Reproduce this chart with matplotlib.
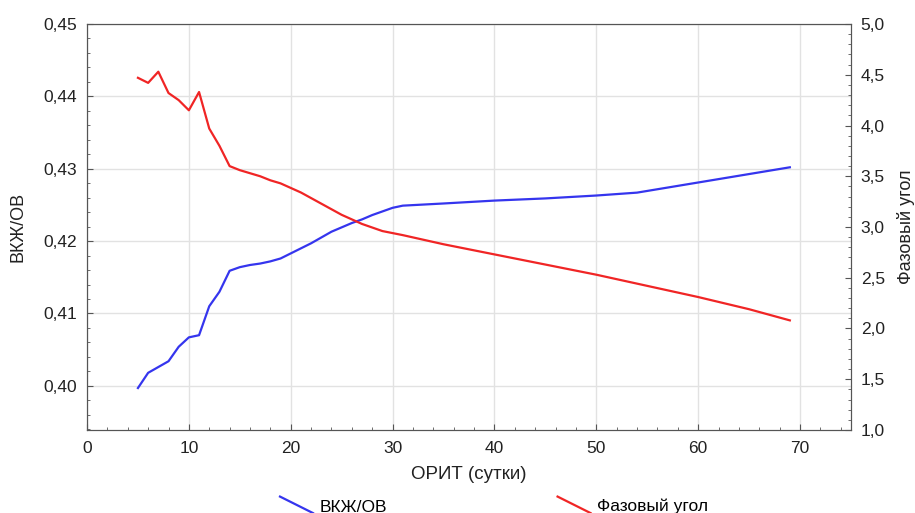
import matplotlib.pyplot as plt
from matplotlib.ticker import MultipleLocator, AutoMinorLocator, FuncFormatter
from matplotlib.legend_handler import HandlerBase
from matplotlib.lines import Line2D

plt.rcParams['font.family'] = ['Liberation Sans', 'DejaVu Sans']

# ВКЖ/ОВ (left axis)
days_vkzh = [5, 6, 7, 8, 9, 10, 11, 12, 13, 14, 15, 16, 17, 18, 19, 20, 21,
             22, 23, 24, 25, 26, 27, 28, 29, 30, 31, 35, 40, 45, 50, 54,
             57, 60, 63, 66, 69]
vkzh = [0.3997, 0.4018, 0.4026, 0.4034, 0.4054, 0.4067, 0.4070, 0.4110,
        0.4130, 0.4159, 0.4164, 0.4167, 0.4169, 0.4172, 0.4176, 0.4183,
        0.4190, 0.4197, 0.4205, 0.4213, 0.4219, 0.4225, 0.4230, 0.4236,
        0.4241, 0.4246, 0.4249, 0.4252, 0.4256, 0.4259, 0.4263, 0.4267,
        0.4274, 0.4281, 0.4288, 0.4295, 0.4302]

# Фазовый угол (right axis)
days_phase = [5, 6, 7, 8, 9, 10, 11, 12, 13, 14, 15, 16, 17, 18, 19, 21,
              23, 25, 27, 29, 31, 35, 40, 45, 50, 55, 60, 65, 69]
phase = [4.47, 4.42, 4.53, 4.32, 4.25, 4.15, 4.33, 3.97, 3.80, 3.60, 3.56,
         3.53, 3.50, 3.46, 3.43, 3.34, 3.23, 3.12, 3.03, 2.96, 2.92, 2.83,
         2.73, 2.63, 2.53, 2.42, 2.31, 2.19, 2.08]

blue = '#3535ee'
red = '#f02525'
spine_c = '#555555'


class SlantHandler(HandlerBase):
    def create_artists(self, legend, orig_handle, xdescent, ydescent,
                       width, height, fontsize, trans):
        ln = Line2D([0, width], [height + 2, height + 2 - 0.5 * width],
                    color=orig_handle.get_color(), lw=1.6)
        ln.set_transform(trans)
        return [ln]


fig = plt.figure(figsize=(9.15, 5.13), dpi=100)
ax = fig.add_axes([0.0951, 0.1618, 0.8349, 0.7914])
ax2 = ax.twinx()

l1, = ax.plot(days_vkzh, vkzh, color=blue, lw=1.6, label='ВКЖ/ОВ')
l2, = ax2.plot(days_phase, phase, color=red, lw=1.6, label='Фазовый угол')

ax.set_xlim(0, 75)
ax.set_ylim(0.3939, 0.45)
ax2.set_ylim(1.0, 5.0)

ax.xaxis.set_major_locator(MultipleLocator(10))
ax.xaxis.set_minor_locator(AutoMinorLocator(5))
ax.yaxis.set_major_locator(MultipleLocator(0.01))
ax.yaxis.set_minor_locator(AutoMinorLocator(5))
ax2.yaxis.set_major_locator(MultipleLocator(0.5))
ax2.yaxis.set_minor_locator(AutoMinorLocator(5))

ax.yaxis.set_major_formatter(FuncFormatter(lambda v, p: f'{v:.2f}'.replace('.', ',')))
ax2.yaxis.set_major_formatter(FuncFormatter(lambda v, p: f'{v:.1f}'.replace('.', ',')))

ax.grid(True, which='major', color='#e2e2e2', lw=1)
ax.set_axisbelow(True)

for a in (ax, ax2):
    a.tick_params(which='both', direction='in', colors=spine_c, labelcolor='#222222',
                  labelsize=12.5)
    a.tick_params(which='major', length=4)
    a.tick_params(which='minor', length=2)
    for s in a.spines.values():
        s.set_color(spine_c)
ax.tick_params(axis='x', pad=8)
ax.tick_params(axis='y', pad=7)
ax2.tick_params(axis='y', pad=7)

ax.set_xlabel('ОРИТ (сутки)', fontsize=13.5, color='#222222', labelpad=7)
ax.set_ylabel('ВКЖ/ОВ', fontsize=13, color='#222222', labelpad=12)
ax2.set_ylabel('Фазовый угол', fontsize=13, color='#222222', labelpad=9)

fig.legend([l1, l2], ['ВКЖ/ОВ', 'Фазовый угол'], ncol=2, frameon=False,
           loc='upper left', bbox_to_anchor=(0.306, 1 - 499 / 513),
           borderpad=0, borderaxespad=0, fontsize=12.5, handlelength=1.9,
           handletextpad=0.4, columnspacing=9.8,
           handler_map={Line2D: SlantHandler()})

fig.savefig('out.png', dpi=100)
